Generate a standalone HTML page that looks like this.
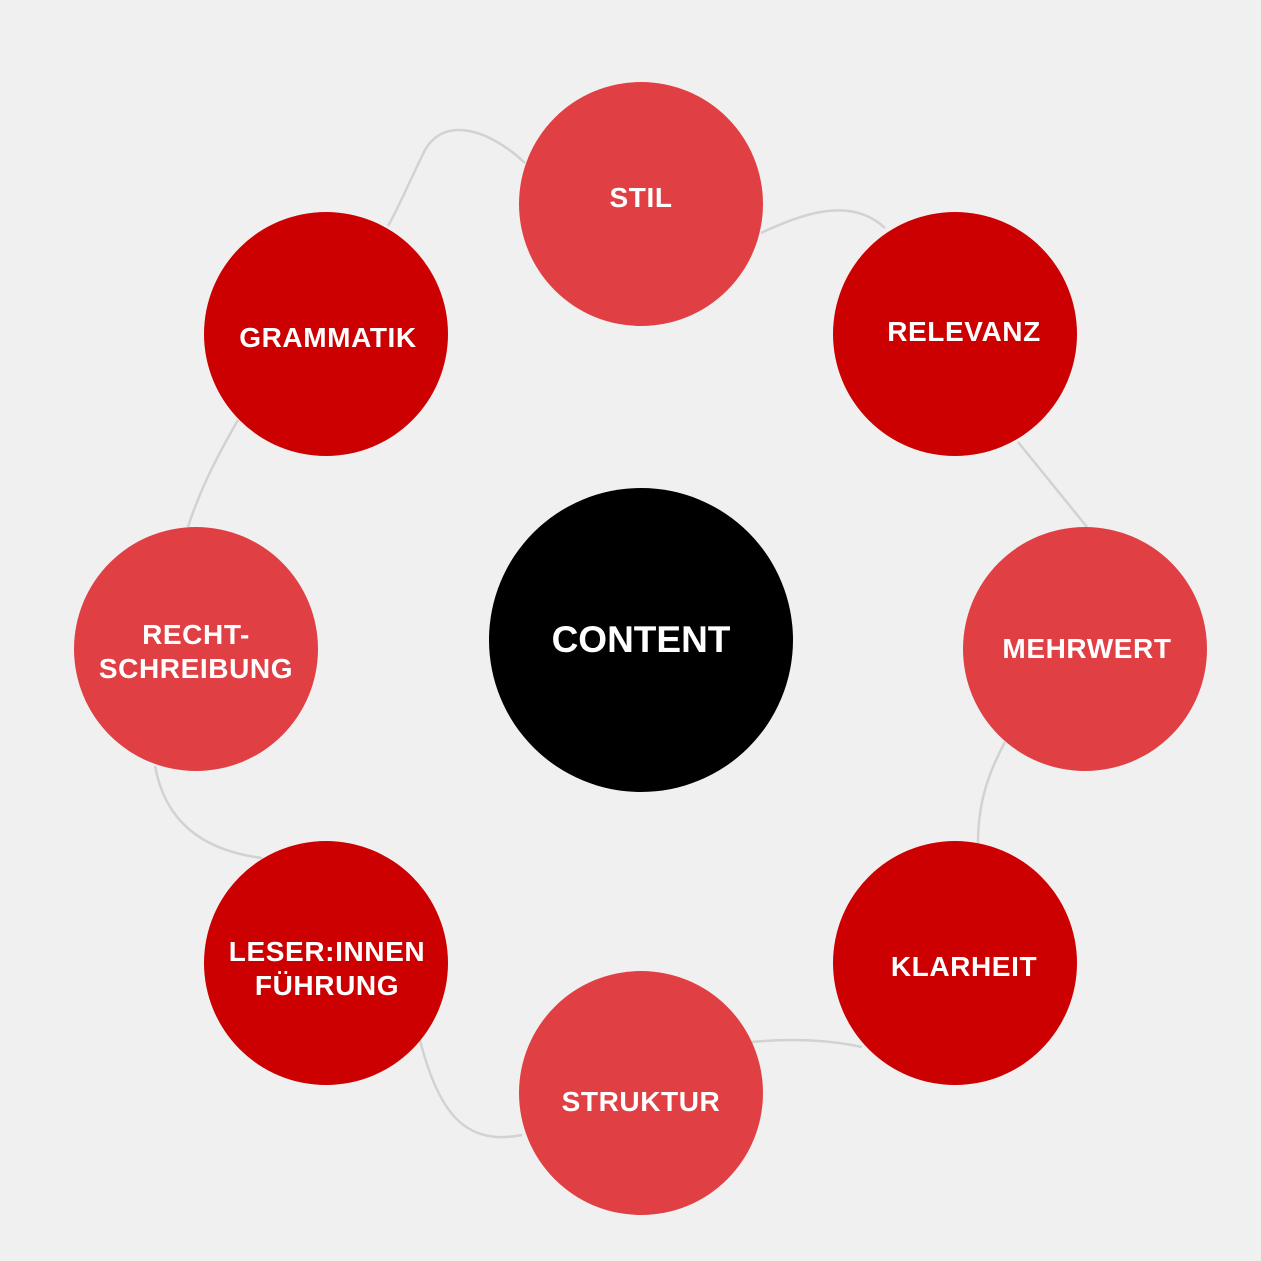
<!DOCTYPE html>
<html><head><meta charset="utf-8"><style>
html,body{margin:0;padding:0;background:#f0f0f0;}
svg{display:block}
text{font-family:"Liberation Sans",sans-serif;font-weight:bold;fill:#fff;text-anchor:middle;}
</style></head><body>
<svg width="1261" height="1261" viewBox="0 0 1261 1261">
<rect width="1261" height="1261" fill="#f0f0f0"/>
<g fill="none" stroke="#d2d2d2" stroke-width="2.5">
<path d="M525,163 C490,130 445,115 425,150 C410,180 400,205 388,226"/>
<path d="M761,233 C800,215 850,195 885,228"/>
<path d="M1018,442 L1087,527"/>
<path d="M1005,742 C990,770 978,800 978,843"/>
<path d="M862,1047 C830,1040 790,1038 752,1042"/>
<path d="M522,1135 C470,1145 440,1120 420,1040"/>
<path d="M262,858 C200,850 165,820 155,766"/>
<path d="M188,527 C200,490 215,460 238,420"/>
</g>
<circle cx="641" cy="204" r="122" fill="#e04044"/>
<circle cx="955" cy="334" r="122" fill="#cc0000"/>
<circle cx="1085" cy="649" r="122" fill="#e04044"/>
<circle cx="955" cy="963" r="122" fill="#cc0000"/>
<circle cx="641" cy="1093" r="122" fill="#e04044"/>
<circle cx="326" cy="963" r="122" fill="#cc0000"/>
<circle cx="196" cy="649" r="122" fill="#e04044"/>
<circle cx="326" cy="334" r="122" fill="#cc0000"/>
<circle cx="641" cy="640" r="152" fill="#000"/>
<g font-size="28" style="letter-spacing:0.6px">
<text x="641" y="207">STIL</text>
<text x="964" y="341">RELEVANZ</text>
<text x="1087" y="658">MEHRWERT</text>
<text x="964" y="976">KLARHEIT</text>
<text x="641" y="1111">STRUKTUR</text>
<text x="327" y="961">LESER:INNEN</text>
<text x="327" y="995">FÜHRUNG</text>
<text x="196" y="644">RECHT-</text>
<text x="196" y="678">SCHREIBUNG</text>
<text x="328" y="347">GRAMMATIK</text>
</g>
<text x="641" y="652" font-size="37" font-weight="900">CONTENT</text>
</svg>
</body></html>
